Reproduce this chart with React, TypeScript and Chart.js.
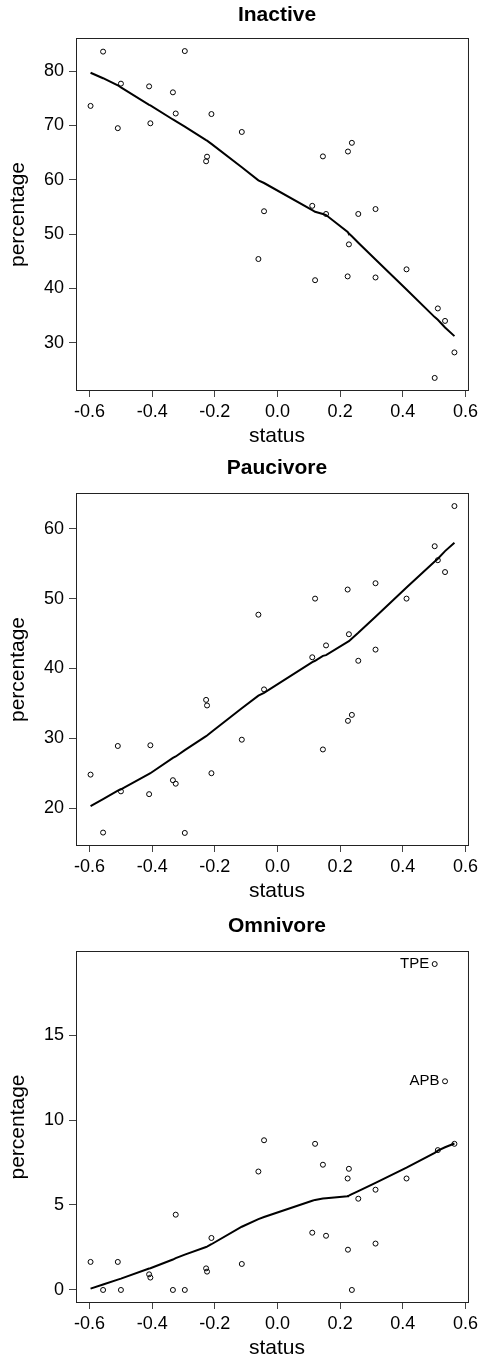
import React, { useEffect, useRef } from "react";
import { Chart, registerables } from "chart.js";

Chart.register(...registerables);

// ---- data ----
const status = [
  -0.597, -0.557, -0.51, -0.5, -0.41, -0.406, -0.334, -0.325, -0.296, -0.228, -0.225,
  -0.211, -0.114, -0.061, -0.043, 0.111, 0.12, 0.145, 0.155, 0.224, 0.225, 0.228,
  0.2375, 0.258, 0.313, 0.313, 0.412, 0.502, 0.512, 0.535, 0.565,
];

const inactive = [
  73.6, 83.6, 69.5, 77.7, 77.2, 70.4, 76.1, 72.2, 83.7, 63.4, 64.25,
  72.1, 68.8, 45.4, 54.2, 55.2, 41.5, 64.3, 53.7, 42.2, 65.2, 48.1,
  66.8, 53.7, 54.6, 42.0, 43.5, 23.5, 36.3, 34.0, 28.2,
];
const inactiveFit = [
  79.7, 78.7, 77.4, 77.0, 73.8, 73.7, 71.1, 70.8, 69.8, 67.3, 67.2,
  66.6, 62.3, 59.9, 59.4, 54.4, 54.1, 53.7, 53.5, 50.4, 50.3, 50.1,
  49.6, 48.4, 45.3, 45.3, 39.8, 34.7, 34.2, 32.8, 31.2,
];

const paucivore = [
  24.8, 16.5, 28.9, 22.4, 22.0, 29.0, 24.0, 23.5, 16.45, 35.5, 34.7,
  25.0, 29.8, 47.7, 37.0, 41.6, 50.0, 28.4, 43.3, 51.3, 32.5, 44.9,
  33.35, 41.1, 42.7, 52.2, 50.0, 57.5, 55.5, 53.8, 63.25,
];
const paucivoreFit = [
  20.3, 21.3, 22.5, 22.7, 24.9, 25.0, 27.2, 27.4, 28.3, 30.3, 30.4,
  30.9, 34.3, 36.1, 36.5, 40.9, 41.1, 41.8, 41.9, 43.8, 43.8, 43.9,
  44.3, 45.1, 47.4, 47.4, 51.6, 55.3, 55.7, 56.8, 58.0,
];

const omnivore = [
  1.65, 0, 1.65, 0, 0.92, 0.73, 0, 4.43, 0, 1.27, 1.08,
  3.06, 1.53, 6.97, 8.81, 3.37, 8.6, 7.37, 3.19, 6.56, 2.37, 7.13,
  0, 5.37, 2.73, 5.9, 6.56, 19.18, 8.23, 12.28, 8.6,
];
const omnivoreFit = [
  0.08, 0.32, 0.61, 0.67, 1.26, 1.28, 1.79, 1.87, 2.08, 2.53, 2.55,
  2.69, 3.72, 4.17, 4.29, 5.25, 5.3, 5.38, 5.4, 5.52, 5.53, 5.55,
  5.64, 5.82, 6.3, 6.3, 7.2, 8.07, 8.2, 8.4, 8.62,
];

const omnivoreLabels = ["TPE", "APB"];
const omnivoreLabelIdx = [27, 29];

const xTicks = [-0.6, -0.4, -0.2, 0, 0.2, 0.4, 0.6];
const inactiveTicks = [30, 40, 50, 60, 70, 80];
const paucivoreTicks = [20, 30, 40, 50, 60];
const omnivoreTicks = [0, 5, 10, 15];

// ---- layout ----
const FONT = "'Liberation Sans', Arial, Helvetica, sans-serif";
const W = 482;
const H = 454;
const TEXT_CX = 277;

type PanelCfg = {
  title: string;
  values: number[];
  fit: number[];
  yTicks: number[];
  top: number;
  boxTop: number;
  boxBottom: number;
  titleY: number;
  xlabelY: number;
  labels?: string[];
  labelIdx?: number[];
};

const panels: PanelCfg[] = [
  { title: "Inactive", values: inactive, fit: inactiveFit, yTicks: inactiveTicks, top: 0, boxTop: 38, boxBottom: 391, titleY: 15.5, xlabelY: 436 },
  { title: "Paucivore", values: paucivore, fit: paucivoreFit, yTicks: paucivoreTicks, top: 454, boxTop: 39, boxBottom: 392, titleY: 14, xlabelY: 437 },
  { title: "Omnivore", values: omnivore, fit: omnivoreFit, yTicks: omnivoreTicks, top: 908, boxTop: 43, boxBottom: 395, titleY: 18, xlabelY: 440, labels: omnivoreLabels, labelIdx: omnivoreLabelIdx },
];

function padRange(arr: number[]): [number, number] {
  const lo = Math.min(...arr);
  const hi = Math.max(...arr);
  const d = (hi - lo) * 0.04;
  return [lo - d, hi + d];
}

function Panel({ cfg }: { cfg: PanelCfg }) {
  const ref = useRef<HTMLCanvasElement | null>(null);

  useEffect(() => {
    const canvas = ref.current;
    if (!canvas) return;
    const [xmin, xmax] = padRange(status);
    const [ymin, ymax] = padRange(cfg.values);
    const pts = status.map((x, i) => ({ x, y: cfg.values[i] }));
    const fitPts = status.map((x, i) => ({ x, y: cfg.fit[i] }));

    const decor = {
      id: "decor",
      afterDraw(chart: any) {
        const { ctx, chartArea: a } = chart;
        ctx.save();
        ctx.strokeStyle = "#222";
        ctx.lineWidth = 1;
        ctx.strokeRect(a.left + 0.5, a.top + 0.5, a.right - a.left - 1, a.bottom - a.top - 1);

        ctx.fillStyle = "#000";
        ctx.textAlign = "center";
        ctx.textBaseline = "middle";
        ctx.font = `bold 21px ${FONT}`;
        ctx.fillText(cfg.title, TEXT_CX, cfg.titleY);
        ctx.font = `21px ${FONT}`;
        ctx.fillText("status", TEXT_CX, cfg.xlabelY);

        if (cfg.labels && cfg.labelIdx) {
          ctx.font = `15px ${FONT}`;
          ctx.textAlign = "right";
          cfg.labels.forEach((lab, k) => {
            const i = cfg.labelIdx![k];
            const px = chart.scales.x.getPixelForValue(status[i]);
            const py = chart.scales.y.getPixelForValue(cfg.values[i]);
            ctx.fillText(lab, px - 5.5, py);
          });
          ctx.textAlign = "center";
        }

        ctx.font = `21px ${FONT}`;
        ctx.translate(18.5, (a.top + a.bottom) / 2);
        ctx.rotate(-Math.PI / 2);
        ctx.fillText("percentage", 0, 0);
        ctx.restore();
      },
    };

    const chart = new Chart(canvas, {
      type: "scatter",
      data: {
        datasets: [
          {
            data: fitPts,
            showLine: true,
            borderColor: "#000",
            borderWidth: 2,
            pointRadius: 0,
            tension: 0,
            fill: false,
          },
          {
            data: pts,
            showLine: false,
            pointStyle: "circle",
            pointRadius: 2.5,
            pointBorderWidth: 1,
            pointBorderColor: "#000",
            pointBackgroundColor: "rgba(0,0,0,0)",
          },
        ],
      },
      options: {
        animation: false,
        responsive: false,
        devicePixelRatio: 1,
        layout: { padding: { top: cfg.boxTop, right: 11, left: 0, bottom: 0 } },
        plugins: { legend: { display: false }, tooltip: { enabled: false }, title: { display: false } },
        scales: {
          x: {
            type: "linear",
            min: xmin,
            max: xmax,
            afterBuildTicks: (s: any) => {
              s.ticks = xTicks.map((v) => ({ value: v }));
            },
            afterFit: (s: any) => {
              s.height = H - cfg.boxBottom;
            },
            ticks: {
              callback: (v: any) => Number(v).toFixed(1),
              font: { family: FONT, size: 18 },
              color: "#000",
              padding: 4,
              maxRotation: 0,
              autoSkip: false,
            },
            grid: { drawOnChartArea: false, drawTicks: true, tickLength: 6, color: "#444" },
            border: { display: false },
          },
          y: {
            type: "linear",
            position: "left",
            min: ymin,
            max: ymax,
            afterBuildTicks: (s: any) => {
              s.ticks = cfg.yTicks.map((v) => ({ value: v }));
            },
            afterFit: (s: any) => {
              s.width = 76;
            },
            ticks: {
              callback: (v: any) => String(v),
              font: { family: FONT, size: 18 },
              color: "#000",
              padding: 5,
              autoSkip: false,
            },
            grid: { drawOnChartArea: false, drawTicks: true, tickLength: 7, color: "#444" },
            border: { display: false },
          },
        },
      },
      plugins: [decor],
    } as any);

    return () => chart.destroy();
  }, [cfg]);

  return (
    <canvas
      ref={ref}
      width={W}
      height={H}
      style={{ position: "absolute", left: 0, top: cfg.top, width: W, height: H, display: "block" }}
    />
  );
}

export default function App() {
  return (
    <div style={{ position: "absolute", left: 0, top: 0, width: W, height: 1362, background: "#fff" }}>
      {panels.map((p) => (
        <Panel key={p.title} cfg={p} />
      ))}
    </div>
  );
}
